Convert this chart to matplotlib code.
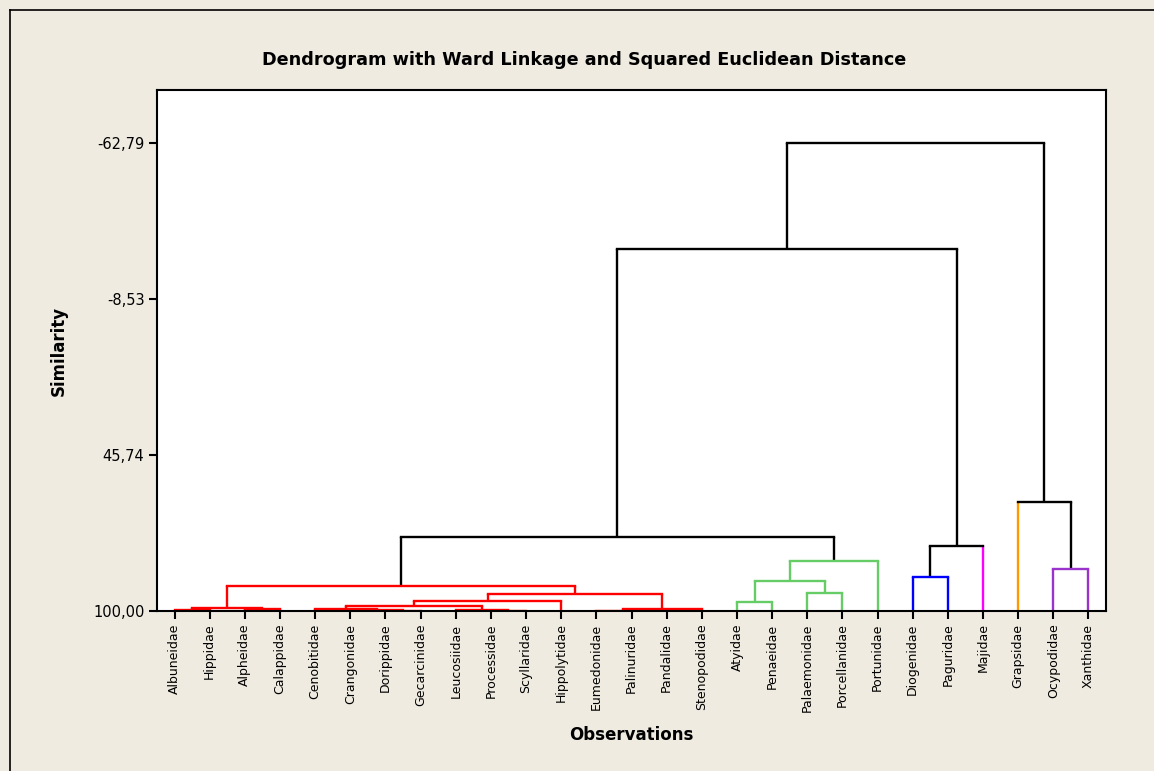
import matplotlib
matplotlib.use('Agg')
import matplotlib.pyplot as plt
from matplotlib.lines import Line2D

# folhas (observações) na ordem do dendrograma
labels = ['Albuneidae', 'Hippidae', 'Alpheidae', 'Calappidae', 'Cenobitidae',
          'Crangonidae', 'Dorippidae', 'Gecarcinidae', 'Leucosiidae', 'Processidae',
          'Scyllaridae', 'Hippolytidae', 'Eumedonidae', 'Palinuridae', 'Pandalidae',
          'Stenopodidae', 'Atyidae', 'Penaeidae', 'Palaemonidae', 'Porcellanidae',
          'Portunidae', 'Diogenidae', 'Paguridae', 'Majidae', 'Grapsidae',
          'Ocypodidae', 'Xanthidae']
# grupo de cada folha
leaf_cluster = [0] * 16 + [1] * 5 + [2, 2, 3, 4, 5, 5]
cluster_colors = ['#FF0000', '#66CC66', '#0000FF', '#FF00FF', '#FF9900', '#9933CC']

# fusões: índices >= 27 referem-se a fusões anteriores (27 + k)
merge_a = [0, 2, 27, 6, 5, 4, 9, 8, 32, 35, 13, 12, 38, 36, 29,
           16, 18, 42, 44, 41, 21, 47, 25, 24, 46, 51]
merge_b = [1, 3, 28, 7, 30, 31, 10, 33, 34, 11, 14, 37, 15, 39, 40,
           17, 19, 43, 20, 45, 22, 23, 26, 49, 48, 50]
merge_sim = [99.75, 99.2, 98.8, 99.85, 99.6, 99.3, 99.85, 99.6, 98.4, 96.5,
             99.95, 99.9, 99.2, 94.2, 91.4,
             97.0, 93.6, 89.5, 82.6, 74.1,
             88.2, 77.5, 85.3, 62.2, -26.02, -62.79]

yticks = [100.00, 45.74, -8.53, -62.79]

n = len(labels)
pos = {i: float(i) for i in range(n)}
hgt = {i: 100.0 for i in range(n)}
clus = {i: leaf_cluster[i] for i in range(n)}

fig = plt.figure(figsize=(11.54, 7.71), dpi=100, facecolor='#EFEBE1')
ax = fig.add_axes([157 / 1154, 160 / 771, 949 / 1154, 521 / 771])
ax.set_facecolor('white')


def leg_color(child, link_col):
    # folha isolada mantém a cor do seu grupo
    if child < n:
        return cluster_colors[leaf_cluster[child]]
    return link_col


for k in range(len(merge_a)):
    a, b, s = merge_a[k], merge_b[k], merge_sim[k]
    node = n + k
    pos[node] = (pos[a] + pos[b]) / 2
    hgt[node] = s
    c = clus[a] if clus[a] == clus[b] else None
    clus[node] = c
    col = 'black' if c is None else cluster_colors[c]
    ax.plot([pos[a], pos[a]], [hgt[a], s], color=leg_color(a, col), lw=1.7,
            solid_capstyle='butt', zorder=2)
    ax.plot([pos[b], pos[b]], [hgt[b], s], color=leg_color(b, col), lw=1.7,
            solid_capstyle='butt', zorder=2)
    ax.plot([pos[a], pos[b]], [s, s], color=col, lw=1.7,
            solid_capstyle='projecting', zorder=2.5)

ax.set_xlim(-0.5, n - 0.5)
ax.set_ylim(100, -81.3)
ax.set_xticks(range(n))
ax.set_xticklabels(labels, rotation=90, fontsize=9)
ax.set_yticks(yticks)
ax.set_yticklabels([('%.2f' % v).replace('.', ',') for v in yticks], fontsize=10.5)
ax.tick_params(axis='both', direction='out', length=6, width=1.5, color='black', pad=3)
for sp in ax.spines.values():
    sp.set_linewidth(1.5)
    sp.set_zorder(3)

fig.text(584 / 1154, 1 - 60 / 771,
         'Dendrogram with Ward Linkage and Squared Euclidean Distance',
         fontsize=12.7, fontweight='bold', ha='center', va='center')
ax.set_xlabel('Observations', fontsize=12, fontweight='bold', labelpad=10)
ax.set_ylabel('Similarity', fontsize=12, fontweight='bold', labelpad=18)

# moldura externa
fig.add_artist(Line2D([10 / 1154, 10 / 1154], [0, 761 / 771], color='black', lw=1.2))
fig.add_artist(Line2D([10 / 1154, 1], [761 / 771, 761 / 771], color='black', lw=1.2))

fig.savefig('out.png', dpi=100, facecolor=fig.get_facecolor())
